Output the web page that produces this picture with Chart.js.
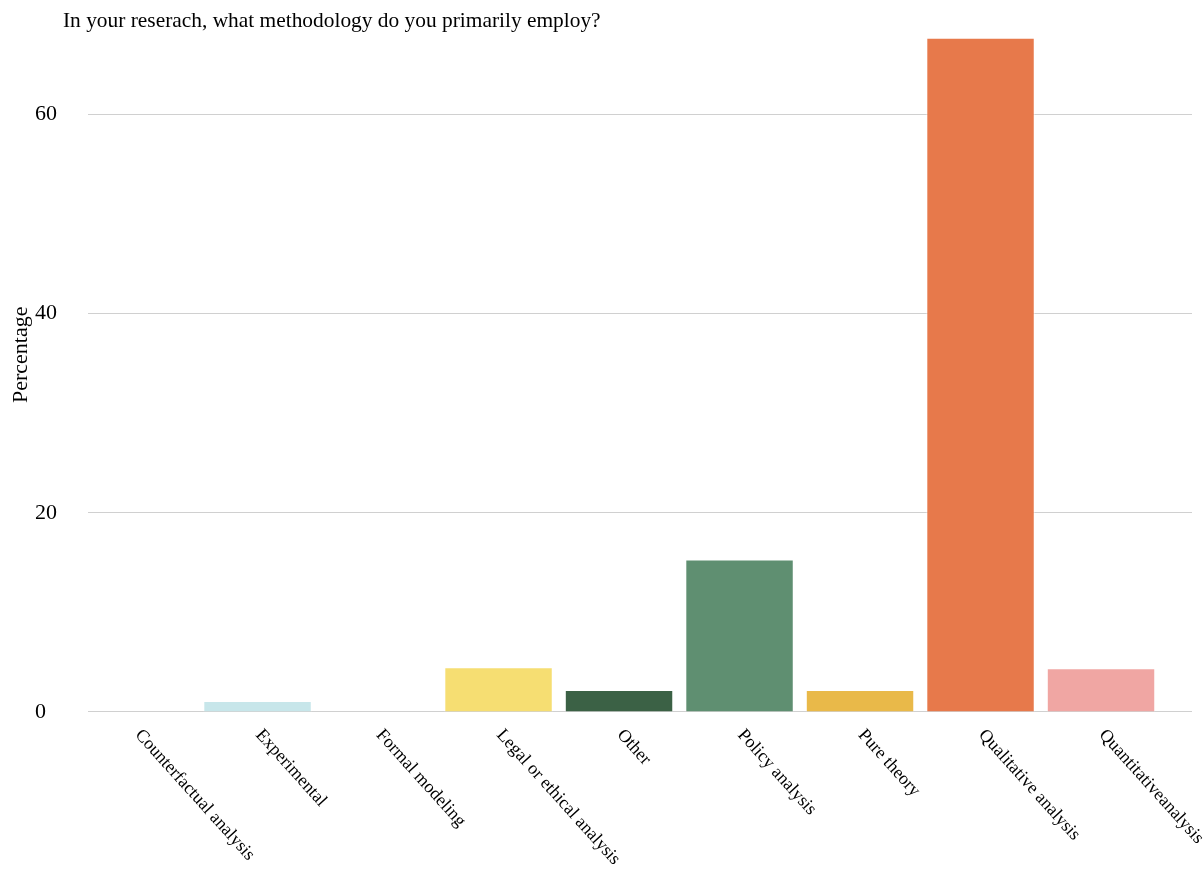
<!DOCTYPE html>
<html>
<head>
<meta charset="utf-8">
<script src="https://cdn.jsdelivr.net/npm/chart.js@4/dist/chart.umd.min.js"></script>
<style>
  body { margin: 0; background: #fff; }
  canvas { display: block; }
</style>
</head>
<body>
<canvas id="grafico" width="1203" height="871"></canvas>
<script>
// datos
const categorias = [
    "Counterfactual analysis",
    "Experimental",
    "Formal modeling",
    "Legal or ethical analysis",
    "Other",
    "Policy analysis",
    "Pure theory",
    "Qualitative analysis",
    "Quantitativeanalysis"
];
const porcentajes = [0, 1.1, 0, 4.5, 2.2, 15.3, 2.2, 67.7, 4.4];
const colores = ["#9ecae1", "#c7e6ea", "#b3b3b3", "#f6de72", "#3b6145", "#5f8f71", "#e9b949", "#e7794b", "#f0a6a3"];
const ticksY = [0, 20, 40, 60];
const titulo = "In your reserach, what methodology do you primarily employ?";
const tituloY = "Percentage";

const fuente = "'Liberation Serif', 'Times New Roman', serif";
Chart.defaults.font.family = fuente;
Chart.defaults.font.size = 22;
Chart.defaults.color = "#000";

// etiquetas del eje x giradas hacia abajo-derecha + titulo del eje y
const etiquetasX = {
    id: "etiquetasX",
    afterDraw(chart) {
        const ctx = chart.ctx;
        const xs = chart.scales.x;
        const ys = chart.scales.y;
        ctx.save();
        ctx.font = "18px " + fuente;
        ctx.fillStyle = "#000";
        ctx.textAlign = "left";
        ctx.textBaseline = "middle";
        categorias.forEach((c, i) => {
            const px = xs.getPixelForValue(i);
            ctx.save();
            ctx.translate(px + 1, ys.bottom + 20);
            ctx.rotate(48 * Math.PI / 180);
            ctx.fillText(c, 0, 0);
            ctx.restore();
        });
        // titulo eje y (un poco por encima del centro, como el original)
        ctx.font = "22px " + fuente;
        ctx.textAlign = "center";
        ctx.translate(21, (ys.top + ys.bottom) / 2 - 20);
        ctx.rotate(-Math.PI / 2);
        ctx.fillText(tituloY, 0, 0);
        ctx.restore();
    },
    afterLayout(chart) {
        // mover el titulo a su sitio
        if (chart.titleBlock) {
            const w = chart.titleBlock.right - chart.titleBlock.left;
            chart.titleBlock.left = 63;
            chart.titleBlock.right = 63 + w;
        }
    }
};

const ctx = document.getElementById("grafico").getContext("2d");
new Chart(ctx, {
    type: "bar",
    data: {
        datasets: [{
            label: tituloY,
            data: porcentajes.map((v, i) => ({ x: i, y: v })),
            backgroundColor: colores,
            borderColor: "rgba(255,255,255,0.6)",
            borderWidth: 1,
            barPercentage: 0.9,
            categoryPercentage: 1
        }]
    },
    options: {
        responsive: false,
        animation: false,
        layout: { padding: { left: 35, right: 11, top: 0, bottom: 0 } },
        plugins: {
            legend: { display: false },
            tooltip: { enabled: false },
            title: {
                display: true,
                text: titulo,
                align: "start",
                font: { size: 21.4, weight: "normal" },
                color: "#000",
                padding: { top: 9, bottom: 3 }
            }
        },
        scales: {
            x: {
                type: "linear",
                offset: false,
                min: -0.407,
                max: 8.755,
                grid: { display: false },
                border: { display: false },
                ticks: { display: false },
                afterFit: (s) => { s.height = 159; }
            },
            y: {
                min: 0,
                max: Math.max(...porcentajes),
                afterBuildTicks: (s) => { s.ticks = ticksY.map(v => ({ value: v })); },
                ticks: {
                    crossAlign: "far",
                    font: { size: 22 },
                    color: "#000"
                },
                grid: { color: "#d0d0d0", lineWidth: 1, drawTicks: false },
                border: { display: false },
                title: { display: false },
                afterFit: (s) => { s.width = 53; }
            }
        }
    },
    plugins: [etiquetasX]
});
</script>
</body>
</html>
